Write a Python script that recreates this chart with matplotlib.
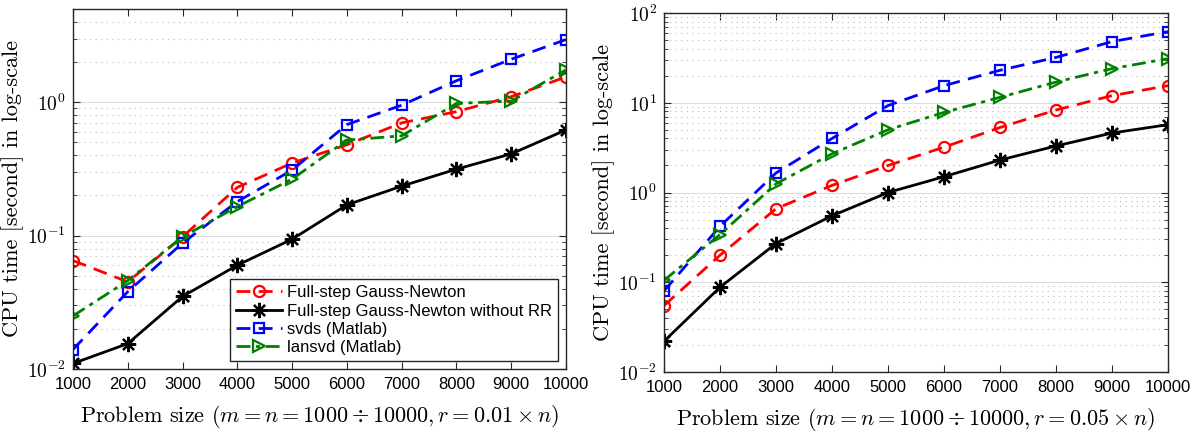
import math
import matplotlib
matplotlib.use("Agg")
import matplotlib.pyplot as plt
from matplotlib.ticker import FixedLocator, LogLocator, NullFormatter

plt.rcParams.update({
    "mathtext.fontset": "cm",
    "font.family": "Liberation Sans",
    "axes.unicode_minus": False,
})

sizes = [1000, 2000, 3000, 4000, 5000, 6000, 7000, 8000, 9000, 10000]

labels = ["Full-step Gauss-Newton", "Full-step Gauss-Newton without RR",
          "svds (Matlab)", "lansvd (Matlab)"]

# r = 0.01 n
gn_01 = [0.065, 0.045, 0.098, 0.23, 0.35, 0.48, 0.70, 0.85, 1.1, 1.55]
gn_norr_01 = [0.011, 0.0155, 0.035, 0.060, 0.094, 0.17, 0.235, 0.315, 0.41, 0.62]
svds_01 = [0.014, 0.038, 0.088, 0.18, 0.31, 0.68, 0.95, 1.45, 2.1, 2.95]
lansvd_01 = [0.025, 0.046, 0.098, 0.165, 0.265, 0.52, 0.56, 0.98, 1.02, 1.75]

# r = 0.05 n
gn_05 = [0.055, 0.20, 0.66, 1.2, 2.0, 3.2, 5.3, 8.3, 12.0, 15.5]
gn_norr_05 = [0.022, 0.088, 0.27, 0.55, 1.0, 1.5, 2.3, 3.3, 4.6, 5.7]
svds_05 = [0.08, 0.42, 1.65, 4.0, 9.3, 15.5, 23.0, 32.0, 48.0, 62.0]
lansvd_05 = [0.105, 0.34, 1.25, 2.7, 5.0, 7.8, 11.5, 17.0, 24.0, 31.0]

STYLES = [
    dict(color="#ff0000", ls=(0, (5, 3)), marker="o", mfc="none", ms=8, mew=1.6),
    dict(color="#000000", ls="-", marker=(8, 2, 0), ms=11, mew=1.6),
    dict(color="#0000ff", ls=(0, (5, 3)), marker="s", mfc="none", ms=7, mew=1.6),
    dict(color="#008000", ls=(0, (5, 2, 1.5, 2)), marker=">", mfc="none", ms=8, mew=1.6),
]


def panel(ax, series, ylim, ymajor, rlabel):
    for y, st, lab in zip(series, STYLES, labels):
        ax.plot(sizes, y, lw=2, label=lab, **st)
    ax.set_yscale("log")
    ax.set_xlim(1000, 10000)
    ax.set_ylim(*ylim)
    ax.set_xticks(sizes)
    ax.set_xticklabels([str(s) for s in sizes], fontsize=12)
    ax.yaxis.set_major_locator(FixedLocator(ymajor))
    ax.set_yticklabels([r"$\mathsf{10^{%d}}$" % round(math.log10(v)) for v in ymajor],
                       fontsize=14)
    ax.yaxis.set_minor_locator(LogLocator(base=10, subs=range(2, 10), numticks=20))
    ax.yaxis.set_minor_formatter(NullFormatter())
    ax.tick_params(which="both", direction="in", top=True, right=True, color="#262626")
    ax.tick_params(which="major", length=5, width=0.8)
    ax.tick_params(axis="x", which="major", pad=6)
    ax.tick_params(axis="y", which="major", pad=5)
    ax.tick_params(which="minor", length=3, width=0.6)
    ax.grid(True, axis="y", which="major", color="#dddddd", lw=0.8, ls="-")
    ax.grid(True, axis="y", which="minor", color="#bbbbbb", lw=0.8, ls=(0, (1, 4)))
    ax.set_axisbelow(True)
    for sp in ax.spines.values():
        sp.set_color("#262626")
        sp.set_linewidth(1.0)
    ax.set_ylabel("CPU time [second] in log-scale", family="cmr10", fontsize=16, labelpad=2)
    ax.set_xlabel("Problem size $(m = n = 1000 \\div 10000, r = %s \\times n)$" % rlabel,
                  family="cmr10", fontsize=16, labelpad=8)


fig = plt.figure(figsize=(11.99, 4.33), dpi=100)
ax1 = fig.add_axes([73 / 1199, 1 - 369 / 433, 493 / 1199, 360 / 433])
ax2 = fig.add_axes([664 / 1199, 1 - 372 / 433, 504 / 1199, 359 / 433])

panel(ax1, [gn_01, gn_norr_01, svds_01, lansvd_01], (0.01, 5), [0.01, 0.1, 1], "0.01")
panel(ax2, [gn_05, gn_norr_05, svds_05, lansvd_05], (0.01, 100), [0.01, 0.1, 1, 10, 100], "0.05")

leg = ax1.legend(loc="lower right", bbox_to_anchor=(0.984, 0.022), fontsize=12,
                 fancybox=False, framealpha=1, edgecolor="#262626", handlelength=2.8,
                 borderpad=0.35, labelspacing=0.2, handletextpad=0.3, borderaxespad=0)
leg.get_frame().set_linewidth(1.0)

fig.savefig("out.png", dpi=100)
